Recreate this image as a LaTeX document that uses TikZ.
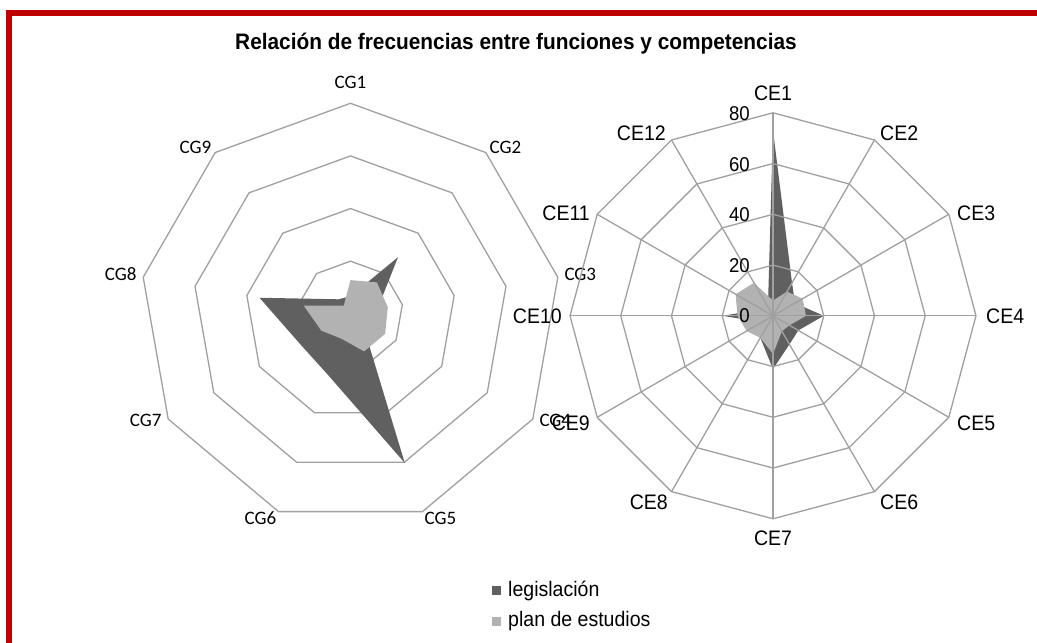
\documentclass[tikz,border=0pt]{standalone}
\usepackage{fontspec}
\setmainfont{Liberation Sans}
\newfontfamily\arialn[FakeStretch=0.93]{Liberation Sans}
\newfontfamily\arialnb[FakeStretch=0.93]{Liberation Sans Bold}
\newfontfamily\calib{Carlito}
\definecolor{framered}{HTML}{C00000}
\definecolor{gridgray}{HTML}{A0A0A0}
\definecolor{legis}{HTML}{606060}
\definecolor{plan}{HTML}{B2B2B2}
\def\RL{210.5}
\def\US{2.5375}
\begin{document}
\begin{tikzpicture}[x=1pt,y=-1pt,
  gridline/.style={draw=gridgray, line width=1.3pt, line join=miter},
  cglabel/.style={font=\calib\fontsize{19}{19}\selectfont, inner sep=0pt},
  celabel/.style={font=\arialn\fontsize{21}{21}\selectfont, inner sep=0pt},
  ticklabel/.style={font=\arialn\fontsize{20}{20}\selectfont, inner sep=0pt, anchor=east},
  legtext/.style={font=\arialn\fontsize{21}{21}\selectfont, inner sep=0pt, anchor=west},
  legsquare/.style={minimum size=9pt, inner sep=0pt}]
\useasboundingbox[fill=white] (0,0) rectangle (1037,643);
% frame
\coordinate (ftl) at (9,13);
\coordinate (ftr) at (1037,13);
\coordinate (fbl) at (9,643);
\draw[framered, line width=6pt] (ftr) -- (ftl) -- (fbl);
% title
\node[font=\arialnb\fontsize{22.4}{22.4}\selectfont, inner sep=0pt, anchor=base] (title) at (516,49.3) {Relación de frecuencias entre funciones y competencias};
% ---------------- left radar ----------------
\begin{scope}[shift={(350.5,313.8)}, yscale=-1]
  \foreach \k in {1,2,3,4} {
    \draw[gridline] (90:{\k*\RL/4}) \foreach \i in {1,...,8} { -- ({90-40*\i}:{\k*\RL/4}) } -- cycle;
  }
  \fill[legis] (90:{0.083*\RL}) -- (50:{0.351*\RL}) -- (10:{0.13*\RL}) -- (-30:{0.06*\RL})
    -- (-70:{0.754*\RL}) -- (-110:{0.31*\RL}) -- (-150:{0.28*\RL}) -- (170:{0.439*\RL})
    -- (130:{0.09*\RL}) -- cycle;
  \fill[plan] (90:{0.16*\RL}) -- (50:{0.195*\RL}) -- (10:{0.18*\RL}) -- (-30:{0.19*\RL})
    -- (-70:{0.19*\RL}) -- (-110:{0.126*\RL}) -- (-150:{0.16*\RL}) -- (170:{0.226*\RL})
    -- (130:{0.05*\RL}) -- cycle;
\end{scope}
\node[cglabel] (cg1) at (350.5,82) {CG1};
\node[cglabel] (cg2) at (505.5,147.3) {CG2};
\node[cglabel] (cg3) at (580.3,274.5) {CG3};
\node[cglabel] (cg4) at (555.3,420.7) {CG4};
\node[cglabel] (cg5) at (440.5,518.3) {CG5};
\node[cglabel] (cg6) at (260.5,518.3) {CG6};
\node[cglabel] (cg7) at (145.7,420.7) {CG7};
\node[cglabel] (cg8) at (120.7,274.5) {CG8};
\node[cglabel] (cg9) at (195.5,147.3) {CG9};
% ---------------- right radar ----------------
\begin{scope}[shift={(773,315.8)}, yscale=-1]
  \fill[legis] (90:{73*\US}) -- (60:{15*\US}) -- (30:{10*\US}) -- (0:{20*\US})
    -- (-30:{11.5*\US}) -- (-60:{13*\US}) -- (-90:{21*\US}) -- (-120:{10*\US})
    -- (-150:{5*\US}) -- (180:{20*\US}) -- (150:{5*\US}) -- (120:{4*\US}) -- cycle;
  \fill[plan] (90:{6*\US}) -- (60:{11*\US}) -- (30:{13.5*\US}) -- (0:{13*\US})
    -- (-30:{7.5*\US}) -- (-60:{7*\US}) -- (-90:{15*\US}) -- (-120:{10*\US})
    -- (-150:{12*\US}) -- (180:{14*\US}) -- (150:{17*\US}) -- (120:{15*\US}) -- cycle;
  \foreach \k in {1,2,3,4} {
    \draw[gridline] (90:{\k*20*\US}) \foreach \i in {1,...,11} { -- ({90-30*\i}:{\k*20*\US}) } -- cycle;
  }
  \foreach \i in {0,...,11} {
    \draw[gridline] (0,0) -- ({90-30*\i}:{80*\US});
  }
\end{scope}
\node[ticklabel] (t80) at (750,113.5) {80};
\node[ticklabel] (t60) at (750,164.3) {60};
\node[ticklabel] (t40) at (750,215.0) {40};
\node[ticklabel] (t20) at (750,265.8) {20};
\node[ticklabel] (t0) at (750,315.8) {0};
\node[celabel] (ce1) at (773,93.5) {CE1};
\node[celabel, anchor=west] (ce2) at (880,133) {CE2};
\node[celabel, anchor=west] (ce3) at (957,213.6) {CE3};
\node[celabel, anchor=west] (ce4) at (986,315.8) {CE4};
\node[celabel, anchor=west] (ce5) at (957,423) {CE5};
\node[celabel, anchor=west] (ce6) at (880,502) {CE6};
\node[celabel] (ce7) at (773,538) {CE7};
\node[celabel, anchor=east] (ce8) at (668,502) {CE8};
\node[celabel, anchor=east] (ce9) at (590,423) {CE9};
\node[celabel, anchor=east] (ce10) at (562,315.8) {CE10};
\node[celabel, anchor=east] (ce11) at (590,213.6) {CE11};
\node[celabel, anchor=east] (ce12) at (666,133) {CE12};
% legend
\node[legsquare, fill=legis] (sq1) at (496,590.7) {};
\node[legtext] (lg1) at (508,590.7) {legislación};
\node[legsquare, fill=plan] (sq2) at (496,621) {};
\node[legtext] (lg2) at (508,621) {plan de estudios};
\end{tikzpicture}
\end{document}
